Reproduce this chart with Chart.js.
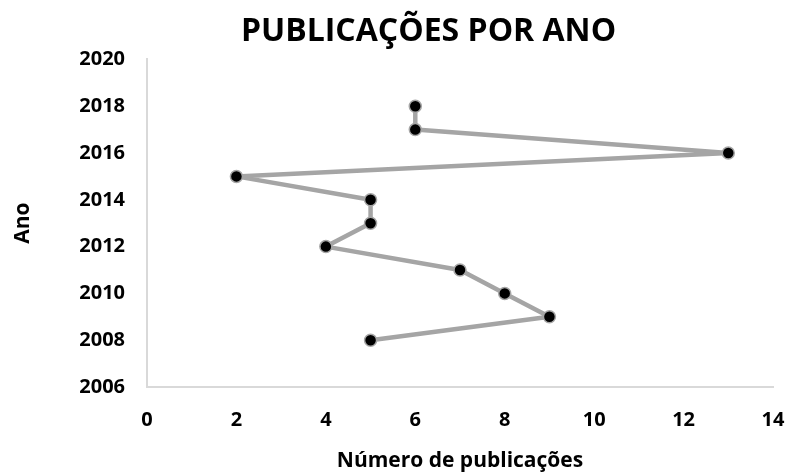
<!DOCTYPE html>
<html lang="pt">
<head>
  <meta charset="UTF-8" />
  <title>Publicações por ano</title>
  <script src="https://cdn.jsdelivr.net/npm/chart.js"></script>
  <style>
    * { margin: 0; padding: 0; box-sizing: border-box; }
    body { background: #fff; }
    .wrap { width: 787px; height: 476px; }
  </style>
</head>
<body>
  <div class="wrap"><canvas id="pubChart"></canvas></div>

  <script>
    const titleText = 'PUBLICAÇÕES POR ANO';
    const xAxisTitle = 'Número de publicações';
    const yAxisTitle = 'Ano';

    // data
    const years = [2008, 2009, 2010, 2011, 2012, 2013, 2014, 2015, 2016, 2017, 2018];
    const publications = [5, 9, 8, 7, 4, 5, 5, 2, 13, 6, 6];

    const xTicks = [0, 2, 4, 6, 8, 10, 12, 14];
    const yTicks = [2006, 2008, 2010, 2012, 2014, 2016, 2018, 2020];

    const points = years.map((y, i) => ({ x: publications[i], y: y }));

    const fontFamily = "'Open Sans', sans-serif";
    const axisGray = '#d9d9d9';

    // shift the title so it sits like the original one
    const titleShift = {
      id: 'titleShift',
      afterLayout(chart) {
        if (chart.titleBlock) {
          chart.titleBlock.left = 70;
          chart.titleBlock.right = 787;
        }
      }
    };

    const ctx = document.getElementById('pubChart').getContext('2d');

    new Chart(ctx, {
      type: 'scatter',
      data: {
        datasets: [{
          data: points,
          showLine: true,
          borderColor: '#a5a5a5',
          borderWidth: 4.5,
          borderJoinStyle: 'round',
          borderCapStyle: 'round',
          pointBackgroundColor: '#000',
          pointBorderColor: '#a5a5a5',
          pointBorderWidth: 1.5,
          pointRadius: 6,
          pointHoverRadius: 6
        }]
      },
      options: {
        responsive: true,
        maintainAspectRatio: false,
        animation: false,
        layout: { padding: 0 },
        plugins: {
          legend: { display: false },
          tooltip: { enabled: false },
          title: {
            display: true,
            text: titleText,
            color: '#000',
            font: { family: fontFamily, size: 32, weight: 'bold' },
            padding: { top: 13, bottom: 8 }
          }
        },
        scales: {
          x: {
            type: 'linear',
            min: 0,
            max: 14,
            afterBuildTicks: s => { s.ticks = xTicks.map(v => ({ value: v })); },
            grid: { display: false, drawTicks: false },
            border: { color: axisGray, width: 2 },
            ticks: {
              color: '#000',
              padding: 21,
              font: { family: fontFamily, size: 20, weight: 'bold' },
              callback: v => String(v)
            },
            title: {
              display: true,
              text: xAxisTitle,
              color: '#000',
              font: { family: fontFamily, size: 21, weight: 'bold' },
              padding: { top: 10, bottom: 2 }
            },
            afterFit: s => {
              s.height = 89;
              s.paddingLeft = 0;
              s.paddingRight = 14;
            }
          },
          y: {
            type: 'linear',
            min: 2006,
            max: 2020,
            afterBuildTicks: s => { s.ticks = yTicks.map(v => ({ value: v })); },
            grid: { display: false, drawTicks: false },
            border: { color: axisGray, width: 2 },
            ticks: {
              color: '#000',
              padding: 22,
              font: { family: fontFamily, size: 20, weight: 'bold' },
              callback: v => String(v)
            },
            title: {
              display: true,
              text: yAxisTitle,
              color: '#000',
              font: { family: fontFamily, size: 21, weight: 'bold' },
              padding: { top: 10, bottom: 0 }
            },
            afterFit: s => { s.width = 147; }
          }
        }
      },
      plugins: [titleShift]
    });
  </script>
</body>
</html>
